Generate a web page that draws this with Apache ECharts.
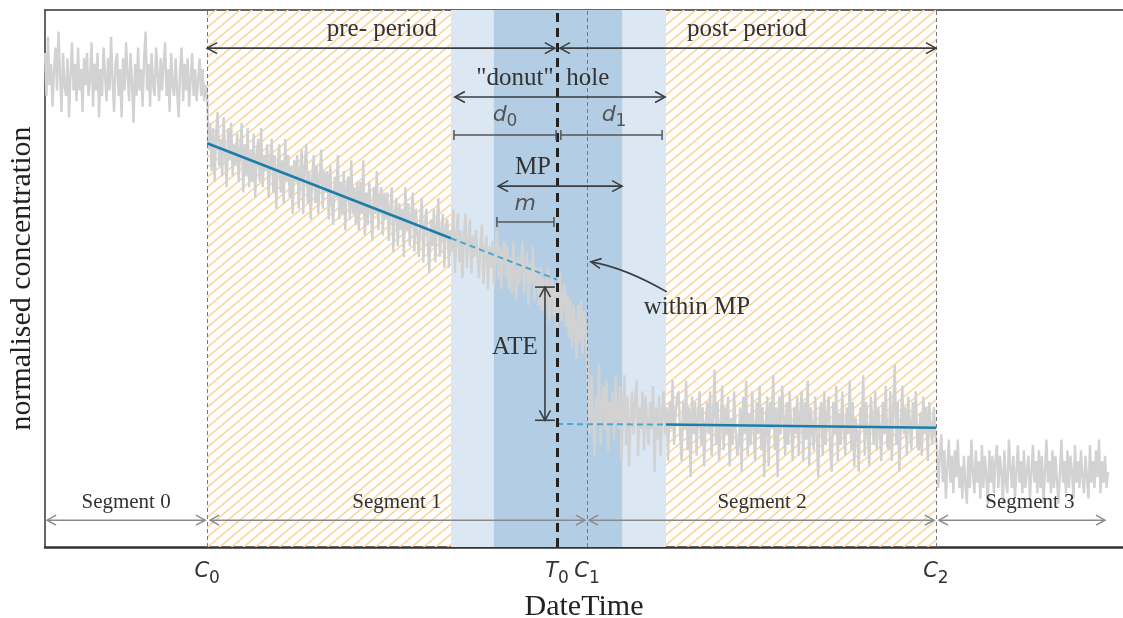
<!DOCTYPE html>
<html>
<head>
<meta charset="utf-8">
<script src="https://cdn.jsdelivr.net/npm/echarts@6/dist/echarts.min.js"></script>
<style>
  html, body { margin: 0; padding: 0; background: #fff; }
  #chart { width: 1123px; height: 618px; }
</style>
</head>
<body>
<div id="chart"></div>
<script>
// x in sample units (one unit ~ 3px), y is normalised 0..100
const xMax = 359
const step = 0.5

// change points on the DateTime axis
const tickValues = [54, 170.5, 180.5, 296.7]
const tickNames = [['C', '0'], ['T', '0'], ['C', '1'], ['C', '2']]

// grey measured signal, per segment
const seg0Start = 0
const seg0 = [92, 84, 95, 86, 90, 82, 89, 93, 85, 96,
  88, 81, 92, 86, 84, 91, 80, 88, 94, 85,
  90, 83, 93, 85, 89, 81, 91, 86, 92, 84,
  87, 94, 82, 90, 85, 92, 80, 89, 84, 93,
  88, 83, 91, 85, 95, 87, 81, 90, 92, 84,
  89, 80, 91, 85, 94, 88, 83, 92, 86, 79,
  90, 84, 93, 85, 89, 82, 91, 96, 85, 90,
  82, 92, 86, 84, 93, 88, 83, 91, 85, 90,
  94, 84, 89, 81, 92, 86, 84, 91, 85, 80,
  89, 93, 83, 90, 85, 91, 82, 87, 92, 84,
  89, 83, 87, 91, 84, 89, 83, 86]
const seg1Start = 54
const seg1 = [84, 74, 79, 70, 78, 68, 77, 81, 71, 76, 69, 80, 73, 67, 78, 72, 79, 69, 75, 71,
  77, 68, 74, 79, 66, 75, 69, 78, 67, 74, 68, 77, 65, 73, 76, 68, 78, 67, 73, 70,
  75, 65, 72, 76, 66, 73, 63, 71, 75, 66, 72, 64, 76, 68, 73, 65, 71, 62, 72, 68,
  73, 63, 70, 74, 62, 71, 75, 64, 70, 61, 69, 73, 64, 71, 62, 69, 74, 63, 70, 66,
  70, 61, 71, 64, 60, 69, 65, 73, 61, 68, 62, 70, 59, 67, 69, 61, 72, 62, 67, 60,
  68, 59, 68, 62, 72, 58, 66, 60, 68, 63, 57, 67, 62, 70, 59, 65, 67, 58, 66, 61,
  66, 57, 63, 67, 55, 62, 65, 56, 64, 59, 63, 54, 67, 59, 64, 56, 62, 66, 55, 63,
  63, 54, 61, 65, 53, 60, 63, 56, 51, 61, 56, 63, 53, 60, 65, 54, 59, 62, 52, 60,
  61, 52, 59, 55, 63, 51, 58, 62, 53, 59, 50, 58, 62, 52, 57, 61, 51, 58, 54, 59,
  59, 50, 56, 60, 49, 55, 58, 48, 56, 52, 57, 49, 55, 59, 50, 56, 48, 55, 57, 50,
  56, 48, 54, 47, 57, 50, 46, 54, 49, 53, 57, 47, 52, 55, 45, 53, 49, 56, 46, 52,
  51, 45, 52, 44, 50, 43, 49, 52, 42, 48, 50, 43, 49, 41, 48, 51, 42, 47, 49, 41,
  47, 39, 46, 37, 45, 41, 35, 45, 38, 46, 36, 44, 40, 37]
const seg2Start = 181
const seg2 = [29, 21, 32, 24, 17, 28, 23, 34, 19, 27, 30, 22, 31, 18, 27, 23, 29, 20, 32, 24,
  22, 30, 16, 26, 32, 19, 28, 15, 24, 29, 21, 27, 31, 17, 26, 22, 29, 18, 28, 23,
  19, 27, 22, 30, 14, 26, 20, 28, 17, 25, 29, 21, 26, 16, 27, 22, 31, 19, 25, 28,
  29, 21, 16, 27, 22, 31, 18, 26, 13, 28, 21, 27, 17, 25, 29, 19, 26, 15, 23, 27,
  21, 29, 17, 25, 33, 19, 27, 16, 22, 30, 18, 26, 21, 28, 15, 24, 19, 29, 22, 17,
  19, 26, 14, 28, 21, 31, 17, 25, 19, 29, 22, 16, 27, 21, 30, 18, 26, 13, 22, 28,
  15, 27, 22, 32, 18, 26, 13, 28, 21, 30, 24, 17, 27, 19, 29, 22, 16, 26, 21, 28,
  17, 25, 29, 16, 27, 20, 31, 15, 26, 22, 18, 28, 21, 13, 25, 27, 17, 29, 19, 25,
  28, 18, 14, 27, 21, 30, 16, 25, 19, 29, 22, 17, 26, 21, 31, 18, 27, 15, 24, 21,
  14, 26, 22, 32, 17, 27, 21, 15, 28, 24, 19, 29, 18, 26, 22, 16, 27, 21, 30, 19,
  18, 29, 16, 26, 34, 19, 27, 14, 22, 30, 21, 26, 17, 28, 23, 18, 27, 22, 29, 19,
  18, 25, 17, 28, 21, 26, 16, 27, 22, 19, 26, 21]
const seg3Start = 297
const seg3 = [19, 11, 17, 21, 12, 18, 9, 15, 20, 12, 17, 10, 18, 13, 20, 11, 15, 9, 17, 12,
  8, 17, 11, 20, 14, 10, 18, 12, 16, 9, 19, 11, 17, 13, 8, 18, 12, 17, 10, 16,
  19, 11, 17, 14, 8, 18, 12, 10, 20, 15, 11, 17, 9, 14, 19, 12, 16, 10, 18, 11,
  11, 17, 9, 14, 19, 12, 16, 10, 18, 11, 17, 8, 14, 20, 12, 16, 10, 18, 11, 17,
  17, 8, 14, 20, 12, 16, 10, 18, 11, 17, 14, 9, 19, 12, 16, 11, 18, 13, 10, 17,
  13, 9, 19, 12, 16, 11, 18, 13, 20, 10, 16, 12, 17, 11, 14]

// fitted trends (blue)
const preFitX = [54, 135.2, 170.5]
const preFitY = [75.2, 57.5, 49.8]
const postFitX = [170.5, 206.8, 296.7]
const postFitY = [22.9, 22.8, 22.2]

// shaded spans [from, to, kind] kind: 0 hatch, 1 donut hole, 2 MP
const spans = [[54, 135.2, 0], [206.8, 296.7, 0], [135.2, 206.8, 1], [149.5, 192.2, 2]]

// annotation lines [x1, y1, x2, y2]
const darkArrows = [
  [54, 92.9, 169.8, 92.9],
  [171.5, 92.9, 296.7, 92.9],
  [136.5, 83.8, 206.5, 83.8],
  [150.9, 67.2, 192.2, 67.2],
  [166.5, 48.4, 166.5, 23.6]
]
const spanBars = [
  [136.2, 76.7, 170.2, 76.7],
  [171.8, 76.7, 205.5, 76.7],
  [150.5, 60.5, 169.5, 60.5]
]
const ateCaps = [
  [163.2, 48.4, 169.8, 48.4],
  [163.2, 23.6, 169.8, 23.6]
]
const segmentArrows = [
  [0.7, 5, 53.3, 5],
  [55, 5, 179.8, 5],
  [181.2, 5, 296, 5],
  [297.7, 5, 353, 5]
]
// curved pointer [x1, y1, cx, cy, x2, y2]
const pointer = [[207.1, 47.5, 193.2, 52.0, 181.8, 53.1]]

// texts [x, y, text, style]
const labels = [
  [112.2, 96.3, 'pre- period', 'serif'],
  [233.8, 96.3, 'post- period', 'serif'],
  [169.4, 87.3, '"donut"', 'serifR'],
  [173.6, 87.3, 'hole', 'serifL'],
  [162.5, 70.6, 'MP', 'serif'],
  [156.5, 37.1, 'ATE', 'serif'],
  [217.1, 44.7, 'within MP', 'serif'],
  [153.2, 80.1, '{v|d}{s|0}', 'math'],
  [189.5, 80.1, '{v|d}{s|1}', 'math'],
  [159.9, 63.5, '{v|m}', 'math'],
  [27, 8.2, 'Segment 0', 'seg'],
  [117.2, 8.2, 'Segment 1', 'seg'],
  [238.8, 8.2, 'Segment 2', 'seg'],
  [328, 8.2, 'Segment 3', 'seg']
]

function toPairs(start, values) {
  return values.map((v, i) => [start + i * step, v])
}
const signal = [].concat(
  toPairs(seg0Start, seg0), toPairs(seg1Start, seg1),
  toPairs(seg2Start, seg2), toPairs(seg3Start, seg3)
)

// hatch tile
const tile = document.createElement('canvas')
tile.width = 12
tile.height = 10
const tctx = tile.getContext('2d')
tctx.strokeStyle = '#fdd49a'
tctx.lineWidth = 1.6
tctx.beginPath()
tctx.moveTo(-1.2, 11); tctx.lineTo(13.2, -1)
tctx.moveTo(-1.2, 1); tctx.lineTo(1.2, -1)
tctx.moveTo(10.8, 11); tctx.lineTo(13.2, 9)
tctx.stroke()
const spanFills = [{ image: tile, repeat: 'repeat' }, '#dbe7f2', '#b3cee4']

const mathRich = {
  v: { fontFamily: 'DejaVu Sans', fontStyle: 'italic', fontSize: 22, lineHeight: 26, verticalAlign: 'top', fill: '#555' },
  s: { fontFamily: 'DejaVu Sans', fontSize: 17, lineHeight: 17, padding: [9, 0, 0, 0], verticalAlign: 'top', fill: '#555' }
}

function lineSeries(rows, head, color, width, len, half) {
  return {
    type: 'custom',
    z: 5,
    silent: true,
    data: rows,
    encode: { x: [0, 2], y: [1, 3] },
    renderItem: function (params, api) {
      const a = api.coord([api.value(0), api.value(1)])
      const b = api.coord([api.value(2), api.value(3)])
      const dx = b[0] - a[0], dy = b[1] - a[1]
      const L = Math.hypot(dx, dy)
      const ux = dx / L, uy = dy / L, nx = -uy, ny = ux
      const style = { stroke: color, lineWidth: width, fill: null }
      const children = [{ type: 'line', shape: { x1: a[0], y1: a[1], x2: b[0], y2: b[1] }, style: style }]
      if (head === 'arrow') {
        children.push({ type: 'polyline', shape: { points: [
          [b[0] - len * ux + half * nx, b[1] - len * uy + half * ny], b,
          [b[0] - len * ux - half * nx, b[1] - len * uy - half * ny]] }, style: style })
        children.push({ type: 'polyline', shape: { points: [
          [a[0] + len * ux + half * nx, a[1] + len * uy + half * ny], a,
          [a[0] + len * ux - half * nx, a[1] + len * uy - half * ny]] }, style: style })
      } else if (head === 'bar') {
        children.push({ type: 'line', shape: { x1: a[0] + half * nx, y1: a[1] + half * ny, x2: a[0] - half * nx, y2: a[1] - half * ny }, style: style })
        children.push({ type: 'line', shape: { x1: b[0] + half * nx, y1: b[1] + half * ny, x2: b[0] - half * nx, y2: b[1] - half * ny }, style: style })
      }
      return { type: 'group', children: children }
    }
  }
}

const chart = echarts.init(document.getElementById('chart'), null, { renderer: 'canvas' })

chart.setOption({
  animation: false,
  grid: { left: 45, right: 0, top: 10, bottom: 71, outerBoundsMode: 'none', containLabel: false },
  xAxis: [{
    type: 'value',
    min: 0,
    max: xMax,
    position: 'bottom',
    name: 'DateTime',
    nameLocation: 'middle',
    nameGap: 41,
    nameTextStyle: { fontFamily: 'Liberation Serif', fontSize: 30, color: '#222' },
    axisLine: { lineStyle: { color: '#333', width: 2.5 } },
    axisTick: { show: false },
    splitLine: { show: false },
    axisLabel: {
      customValues: tickValues,
      margin: 14,
      formatter: function (value) {
        const i = tickValues.findIndex(t => Math.abs(t - value) < 0.01)
        if (i < 0) return ''
        return '{v|' + tickNames[i][0] + '}{s|' + tickNames[i][1] + '}'
      },
      rich: {
        v: { fontFamily: 'DejaVu Sans', fontStyle: 'italic', fontSize: 21, lineHeight: 26, verticalAlign: 'top', color: '#333' },
        s: { fontFamily: 'DejaVu Sans', fontSize: 17, lineHeight: 17, padding: [9, 0, 0, 0], verticalAlign: 'top', color: '#333' }
      }
    }
  }, {
    type: 'value',
    min: 0,
    max: xMax,
    position: 'top',
    axisLine: { lineStyle: { color: '#333', width: 1.5 } },
    axisTick: { show: false },
    axisLabel: { show: false },
    splitLine: { show: false }
  }],
  yAxis: {
    type: 'value',
    min: 0,
    max: 100,
    name: 'normalised concentration',
    nameLocation: 'middle',
    nameGap: 8,
    nameTextStyle: { fontFamily: 'Liberation Serif', fontSize: 30, color: '#222' },
    axisLine: { show: true, lineStyle: { color: '#333', width: 1.5 } },
    axisTick: { show: false },
    axisLabel: { show: false },
    splitLine: { show: false }
  },
  series: [
    {
      type: 'custom',
      z: 1,
      silent: true,
      data: spans,
      encode: { x: [0, 1] },
      renderItem: function (params, api) {
        const p0 = api.coord([api.value(0), 100])
        const p1 = api.coord([api.value(1), 0])
        return {
          type: 'rect',
          shape: { x: p0[0], y: p0[1], width: p1[0] - p0[0], height: p1[1] - p0[1] },
          style: { fill: spanFills[api.value(2)] }
        }
      }
    },
    {
      type: 'line',
      z: 2,
      silent: true,
      data: signal,
      showSymbol: false,
      lineStyle: { color: '#d2d2d2', width: 2.4 },
      markLine: {
        silent: true,
        symbol: 'none',
        label: { show: false },
        data: [
          { xAxis: tickValues[0], lineStyle: { color: '#777', width: 1, type: [4, 3] } },
          { xAxis: tickValues[2], lineStyle: { color: '#777', width: 1, type: [4, 3] } },
          { xAxis: tickValues[3], lineStyle: { color: '#777', width: 1, type: [4, 3] } },
          { xAxis: tickValues[1], lineStyle: { color: '#222', width: 3, type: [9, 6] } }
        ]
      }
    },
    {
      type: 'line', z: 3, silent: true, showSymbol: false,
      data: [[preFitX[0], preFitY[0]], [preFitX[1], preFitY[1]]],
      lineStyle: { color: '#1a7dab', width: 2.6 }
    },
    {
      type: 'line', z: 3, silent: true, showSymbol: false,
      data: [[preFitX[1], preFitY[1]], [preFitX[2], preFitY[2]]],
      lineStyle: { color: '#4aa8cf', width: 2, type: [6, 4] }
    },
    {
      type: 'line', z: 3, silent: true, showSymbol: false,
      data: [[postFitX[0], postFitY[0]], [postFitX[1], postFitY[1]]],
      lineStyle: { color: '#4aa8cf', width: 2, type: [6, 4] }
    },
    {
      type: 'line', z: 3, silent: true, showSymbol: false,
      data: [[postFitX[1], postFitY[1]], [postFitX[2], postFitY[2]]],
      lineStyle: { color: '#1a7dab', width: 2.6 }
    },
    lineSeries(darkArrows, 'arrow', '#3a3d42', 1.6, 10, 5.5),
    lineSeries(spanBars, 'bar', '#555', 1.5, 0, 5),
    lineSeries(ateCaps, 'none', '#3a3d42', 1.6, 0, 0),
    lineSeries(segmentArrows, 'arrow', '#8a8a8a', 1.5, 9, 5),
    {
      type: 'custom',
      z: 5,
      silent: true,
      data: pointer,
      encode: { x: [0, 2, 4], y: [1, 3, 5] },
      renderItem: function (params, api) {
        const a = api.coord([api.value(0), api.value(1)])
        const c = api.coord([api.value(2), api.value(3)])
        const b = api.coord([api.value(4), api.value(5)])
        const dx = b[0] - c[0], dy = b[1] - c[1]
        const L = Math.hypot(dx, dy)
        const ux = dx / L, uy = dy / L, nx = -uy, ny = ux
        const style = { stroke: '#3a3d42', lineWidth: 1.6, fill: null }
        return {
          type: 'group',
          children: [
            { type: 'bezierCurve', shape: { x1: a[0], y1: a[1], cpx1: c[0], cpy1: c[1], x2: b[0], y2: b[1] }, style: style },
            { type: 'polyline', shape: { points: [
              [b[0] - 10 * ux + 5 * nx, b[1] - 10 * uy + 5 * ny], b,
              [b[0] - 10 * ux - 5 * nx, b[1] - 10 * uy - 5 * ny]] }, style: style }
          ]
        }
      }
    },
    {
      type: 'custom',
      z: 6,
      silent: true,
      data: labels.map(t => [t[0], t[1]]),
      encode: { x: 0, y: 1 },
      renderItem: function (params, api) {
        const p = api.coord([api.value(0), api.value(1)])
        const item = labels[params.dataIndex]
        const kind = item[3]
        const style = { text: item[2], fill: '#333', verticalAlign: 'middle', align: 'center' }
        if (kind === 'math') {
          style.rich = mathRich
        } else {
          style.fontFamily = 'Liberation Serif'
          style.fontSize = kind === 'seg' ? 21 : 25
          if (kind === 'serifR') style.align = 'right'
          if (kind === 'serifL') style.align = 'left'
        }
        return { type: 'text', x: p[0], y: p[1], style: style }
      }
    }
  ]
})
</script>
</body>
</html>
